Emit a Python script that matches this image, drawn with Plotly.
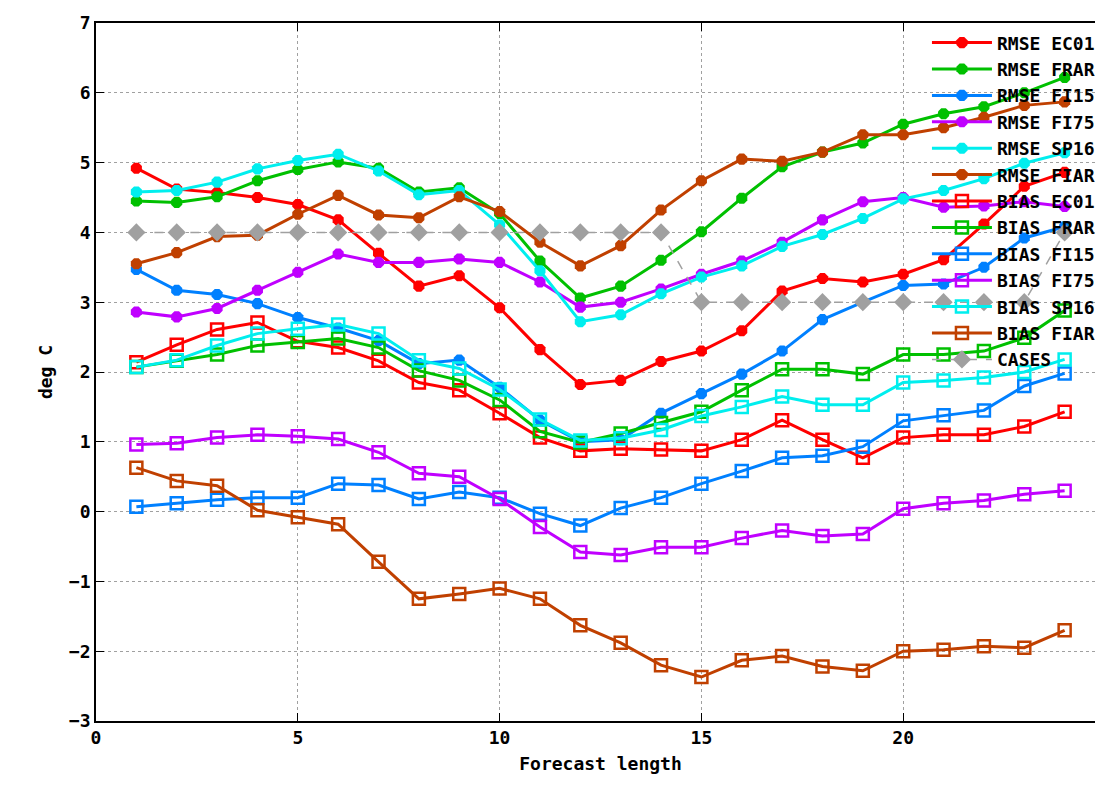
import plotly.graph_objects as go

x = list(range(1, 25))

rmse_ec01 = [4.92, 4.62, 4.57, 4.50, 4.40, 4.18, 3.70, 3.23, 3.38, 2.92, 2.32, 1.82,
             1.88, 2.15, 2.30, 2.59, 3.16, 3.34, 3.29, 3.40, 3.61, 4.12, 4.66, 4.86]
rmse_frar = [4.45, 4.43, 4.51, 4.74, 4.90, 5.01, 4.92, 4.58, 4.64, 4.27, 3.59, 3.06,
             3.23, 3.60, 4.01, 4.49, 4.94, 5.15, 5.28, 5.55, 5.70, 5.80, 6.00, 6.22]
rmse_fi15 = [3.47, 3.17, 3.11, 2.98, 2.78, 2.63, 2.45, 2.12, 2.17, 1.78, 1.31, 1.00,
             1.03, 1.41, 1.69, 1.97, 2.30, 2.75, 3.00, 3.24, 3.26, 3.50, 3.92, 4.08]
rmse_fi75 = [2.86, 2.79, 2.91, 3.17, 3.43, 3.69, 3.57, 3.57, 3.62, 3.57, 3.29, 2.93,
             3.00, 3.19, 3.40, 3.59, 3.86, 4.18, 4.44, 4.50, 4.36, 4.38, 4.44, 4.37]
rmse_sp16 = [4.58, 4.60, 4.72, 4.91, 5.03, 5.12, 4.88, 4.54, 4.60, 4.11, 3.45, 2.72,
             2.82, 3.12, 3.36, 3.52, 3.80, 3.97, 4.20, 4.48, 4.60, 4.77, 4.99, 5.14]
rmse_fiar = [3.55, 3.71, 3.94, 3.96, 4.26, 4.53, 4.25, 4.21, 4.51, 4.30, 3.86, 3.52,
             3.81, 4.32, 4.74, 5.05, 5.02, 5.15, 5.40, 5.40, 5.50, 5.65, 5.82, 5.87]
bias_ec01 = [2.14, 2.39, 2.61, 2.71, 2.44, 2.35, 2.16, 1.85, 1.74, 1.41, 1.06, 0.87,
             0.90, 0.89, 0.87, 1.03, 1.31, 1.03, 0.77, 1.06, 1.10, 1.10, 1.22, 1.43]
bias_frar = [2.07, 2.16, 2.25, 2.38, 2.43, 2.48, 2.35, 2.02, 1.88, 1.60, 1.15, 0.99,
             1.12, 1.27, 1.43, 1.74, 2.04, 2.04, 1.97, 2.25, 2.25, 2.30, 2.49, 2.88]
bias_fi15 = [0.07, 0.12, 0.17, 0.20, 0.20, 0.40, 0.38, 0.18, 0.28, 0.20, -0.03, -0.20,
             0.05, 0.20, 0.40, 0.58, 0.77, 0.80, 0.93, 1.30, 1.38, 1.45, 1.80, 1.98]
bias_fi75 = [0.96, 0.98, 1.06, 1.10, 1.08, 1.04, 0.85, 0.55, 0.50, 0.18, -0.22, -0.58,
             -0.62, -0.51, -0.51, -0.38, -0.27, -0.35, -0.32, 0.04, 0.12, 0.16, 0.25, 0.30]
bias_sp16 = [2.07, 2.17, 2.38, 2.55, 2.62, 2.68, 2.55, 2.17, 2.05, 1.75, 1.32, 1.02,
             1.05, 1.17, 1.37, 1.50, 1.65, 1.53, 1.53, 1.85, 1.88, 1.92, 2.00, 2.18]
bias_fiar = [0.63, 0.44, 0.37, 0.02, -0.08, -0.18, -0.72, -1.25, -1.18, -1.10, -1.25, -1.63,
             -1.88, -2.20, -2.37, -2.13, -2.07, -2.22, -2.28, -2.00, -1.98, -1.93, -1.95, -1.70]
cases = [4, 4, 4, 4, 4, 4, 4, 4, 4, 4, 4, 4, 4, 4, 3, 3, 3, 3, 3, 3, 3, 3, 3, 4]

colors = {"EC01": "#ff0000", "FRAR": "#00c000", "FI15": "#0080ff",
          "FI75": "#c000ff", "SP16": "#00eeee", "FIAR": "#c04000"}

fig = go.Figure()
rmse = [rmse_ec01, rmse_frar, rmse_fi15, rmse_fi75, rmse_sp16, rmse_fiar]
bias = [bias_ec01, bias_frar, bias_fi15, bias_fi75, bias_sp16, bias_fiar]
names = ["EC01", "FRAR", "FI15", "FI75", "SP16", "FIAR"]

for n, y in zip(names, rmse):
    fig.add_trace(go.Scatter(x=x, y=y, name="RMSE " + n, mode="lines+markers",
                             line=dict(color=colors[n], width=3),
                             marker=dict(symbol="octagon", size=12, color=colors[n])))
for n, y in zip(names, bias):
    fig.add_trace(go.Scatter(x=x, y=y, name="BIAS " + n, mode="lines+markers",
                             line=dict(color=colors[n], width=3),
                             marker=dict(symbol="square-open", size=12, color=colors[n],
                                         line=dict(width=2.5))))
fig.add_trace(go.Scatter(x=x, y=cases, name="CASES", mode="lines+markers",
                         line=dict(color="#a0a0a0", width=1.5, dash="dash"),
                         marker=dict(symbol="diamond", size=14, color="#a0a0a0")))

font = dict(family="DejaVu Sans Mono", size=18, color="black", weight="bold")
axis = dict(showline=True, mirror="ticks", linecolor="black", linewidth=1.5,
            ticks="inside", ticklen=8, tickcolor="black", showgrid=True,
            gridcolor="#a0a0a0", griddash="dot", gridwidth=1, zeroline=False,
            tickfont=font)
fig.update_layout(
    width=1103, height=797,
    margin=dict(l=88, r=6, t=15, b=84, autoexpand=False),
    plot_bgcolor="white", paper_bgcolor="white",
    font=font,
    xaxis=dict(range=[0, 25], dtick=5, title=dict(text="Forecast length", font=font, standoff=10), **axis),
    yaxis=dict(range=[-3, 7], dtick=1, title=dict(text="deg C", font=font, standoff=12), **axis),
    legend=dict(x=0.995, y=0.998, xanchor="right", yanchor="top", bgcolor="rgba(0,0,0,0)",
                font=dict(family="DejaVu Sans Mono", size=18, color="black", weight="bold"),
                tracegroupgap=0, itemwidth=60),
)
fig.write_html("out.html")
